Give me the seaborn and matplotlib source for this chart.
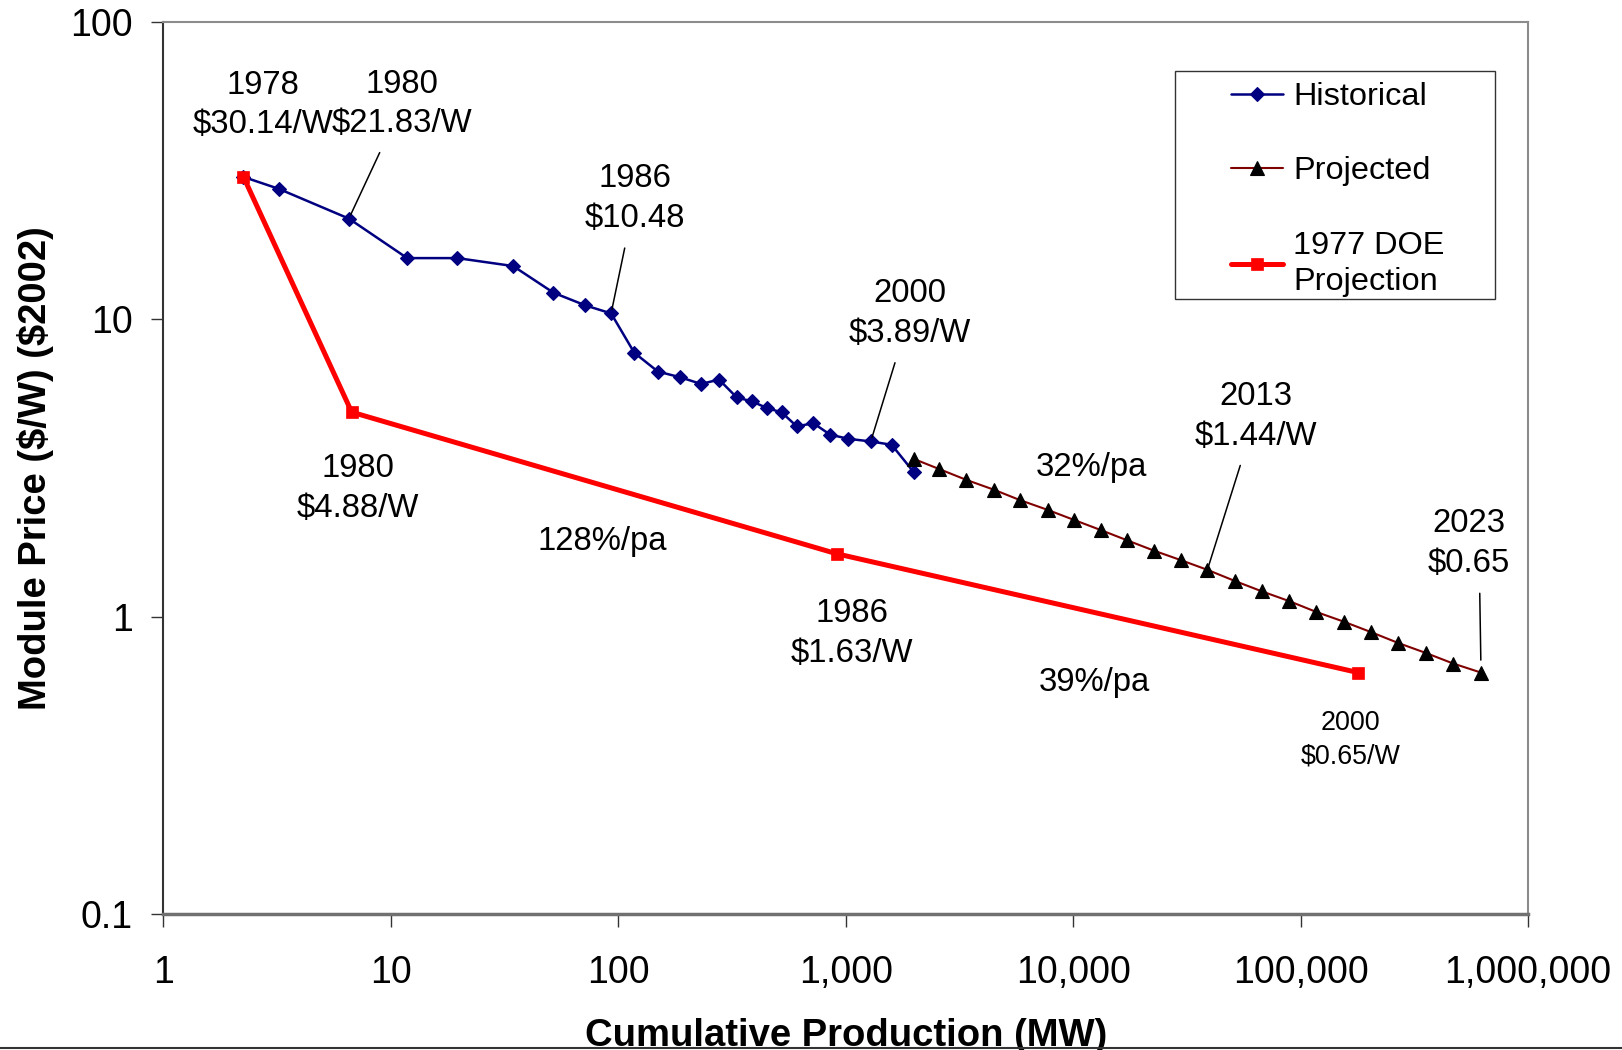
import numpy as np
import pandas as pd
import matplotlib
matplotlib.use("Agg")
import matplotlib.pyplot as plt
import seaborn as sns
from matplotlib.lines import Line2D
from matplotlib.patches import Rectangle
from matplotlib.ticker import NullLocator

# ---------------- data ----------------
hist_mw = [2.25, 3.21, 6.54, 11.8, 19.6, 34.5, 51.9, 71.7, 93.0, 117.6, 149.4, 187.6,
           231.3, 277.3, 331.7, 388.5, 449.5, 523.5, 609.3, 720.9, 853.9, 1027, 1289,
           1593, 1996]
hist_price = [30.14, 27.5, 21.83, 16.08, 16.08, 15.12, 12.30, 11.15, 10.48, 7.73, 6.68,
              6.39, 6.07, 6.28, 5.47, 5.30, 5.04, 4.87, 4.37, 4.48, 4.10, 3.97, 3.89,
              3.79, 3.06]

proj_mw = [1989, 2580, 3388, 4467, 5842, 7730, 10070, 13210, 17270, 22680, 29920, 38930,
           51530, 67400, 89200, 117000, 154900, 204200, 269200, 354900, 469500, 621500]
proj_price = [3.40, 3.14, 2.89, 2.68, 2.47, 2.29, 2.12, 1.96, 1.81, 1.67, 1.55, 1.44,
              1.32, 1.22, 1.13, 1.04, 0.964, 0.889, 0.817, 0.757, 0.697, 0.65]

doe_mw = [2.25, 6.73, 915, 179300]
doe_price = [30.14, 4.88, 1.63, 0.65]

series_labels = ["Historical", "Projected", "1977 DOE\nProjection"]

x_ticks = [1, 10, 100, 1000, 10000, 100000, 1000000]
x_tick_labels = ["1", "10", "100", "1,000", "10,000", "100,000", "1,000,000"]
y_ticks = [0.1, 1, 10, 100]
y_tick_labels = ["0.1", "1", "10", "100"]

# point annotations: (index, text)
hist_notes = [(0, "1978\n$30.14/W"), (2, "1980\n$21.83/W"), (8, "1986\n$10.48"),
              (22, "2000\n$3.89/W")]
proj_notes = [(11, "2013\n$1.44/W"), (21, "2023\n$0.65")]
doe_notes = [(1, "1980\n$4.88/W"), (2, "1986\n$1.63/W"), (3, "2000\n$0.65/W")]
rate_notes = ["128%/pa", "32%/pa", "39%/pa"]

# ---------------- style ----------------
sns.set_style("white")
plt.rcParams["font.family"] = ["Liberation Sans", "DejaVu Sans"]
plt.rcParams["text.parse_math"] = False
plt.rcParams["text.color"] = "black"
plt.rcParams["axes.labelcolor"] = "black"

fig = plt.figure(figsize=(16.22, 10.5), dpi=100)
ax = fig.add_axes([0.10074, 0.12914, 0.84131, 0.84991])
ax.set_xscale("log")
ax.set_yscale("log")

NAVY = "#000080"
DARKRED = "#800000"
RED = "#FF0000"

sns.lineplot(x=hist_mw, y=hist_price, ax=ax, sort=False, estimator=None,
             color=NAVY, lw=1.8, marker="D", markersize=7.3,
             markerfacecolor=NAVY, markeredgecolor=NAVY, markeredgewidth=0.8,
             legend=False)
h_hist = ax.lines[-1]
sns.lineplot(x=proj_mw, y=proj_price, ax=ax, sort=False, estimator=None,
             color=DARKRED, lw=1.5, marker="^", markersize=10,
             markerfacecolor="black", markeredgecolor="black", markeredgewidth=0.8,
             legend=False)
h_proj = ax.lines[-1]
sns.lineplot(x=doe_mw, y=doe_price, ax=ax, sort=False, estimator=None,
             color=RED, lw=3.6, marker="s", markersize=9,
             markerfacecolor=RED, markeredgecolor=RED, markeredgewidth=0.5,
             legend=False)
h_doe = ax.lines[-1]

ax.set_xlim(1, 1e6)
ax.set_ylim(0.1, 100)
ax.set_xticks(x_ticks)
ax.set_xticklabels(x_tick_labels)
ax.set_yticks(y_ticks)
ax.set_yticklabels(y_tick_labels)
ax.xaxis.set_minor_locator(NullLocator())
ax.yaxis.set_minor_locator(NullLocator())
ax.tick_params(axis="both", which="major", direction="out", length=9, width=1,
               color="#333333", labelsize=27, labelcolor="black",
               bottom=True, left=True)
ax.tick_params(axis="x", pad=20)
ax.tick_params(axis="y", pad=13)

for side in ["top", "right"]:
    ax.spines[side].set_color("#8c8c8c")
    ax.spines[side].set_linewidth(1.5)
ax.spines["left"].set_color("#333333")
ax.spines["left"].set_linewidth(1.5)
ax.spines["bottom"].set_color("#707070")
ax.spines["bottom"].set_linewidth(2.5)

ax.set_xlabel("Cumulative Production (MW)", fontsize=27.5, fontweight="bold",
              color="black")
ax.xaxis.label.set_va("baseline")
ax.xaxis.set_label_coords(0.5, -0.148)
ax.set_ylabel("Module Price ($/W) ($2002)", fontsize=27.5, fontweight="bold",
              color="black")
ax.yaxis.set_label_coords(-0.0804, 0.5)

# ---------------- annotations ----------------
ANN_FS = 23.7
LS = 1.35
line_kw = dict(arrowstyle="-", color="black", lw=1.1)

hist_offsets = [(14.2, 51.8), (38.5, 82.5), (17.2, 82.6), (28.3, 92.0)]
hist_leader = [False, True, True, True]
for (i, txt), off, lead in zip(hist_notes, hist_offsets, hist_leader):
    kw = {}
    if lead:
        kw["arrowprops"] = dict(line_kw, shrinkA=8, shrinkB=3)
    ax.annotate(txt, xy=(hist_mw[i], hist_price[i]), xytext=off,
                textcoords="offset points", ha="center", va="center",
                fontsize=ANN_FS, linespacing=LS, color="black", **kw)

proj_offsets = [(34.8, 110.5), (-8.6, 92.8)]
proj_relpos = [(0.5, 0.5), (0.62, 0.5)]
proj_shrinkB = [3, 9]
for (i, txt), off, rp, sb in zip(proj_notes, proj_offsets, proj_relpos, proj_shrinkB):
    ax.annotate(txt, xy=(proj_mw[i], proj_price[i]), xytext=off,
                textcoords="offset points", ha="center", va="center",
                fontsize=ANN_FS, linespacing=LS, color="black",
                arrowprops=dict(line_kw, shrinkA=8, shrinkB=sb, relpos=rp))

doe_offsets = [(4.5, -55.0), (10.7, -57.3), (-5.6, -48.2)]
doe_fs = [ANN_FS, ANN_FS, 19.4]
for (i, txt), off, fs in zip(doe_notes, doe_offsets, doe_fs):
    ax.annotate(txt, xy=(doe_mw[i], doe_price[i]), xytext=off,
                textcoords="offset points", ha="center", va="center",
                fontsize=fs, linespacing=LS, color="black")

rate_pos = [(0.3218, 0.4180), (0.6803, 0.5003), (0.6819, 0.2604)]
for txt, (px, py) in zip(rate_notes, rate_pos):
    ax.text(px, py, txt, transform=ax.transAxes, ha="center", va="center",
            fontsize=ANN_FS, color="black")

# ---------------- legend ----------------
leg = ax.legend([h_hist, h_proj, h_doe], series_labels, frameon=False,
                loc="upper left", bbox_to_anchor=(0.7432, 0.9465),
                bbox_transform=fig.transFigure, fontsize=23.4,
                handlelength=1.6, handletextpad=0.3, labelspacing=1.36,
                borderpad=0.3)
leg.get_texts()[2].set_linespacing(1.27)
for t in leg.get_texts():
    t.set_color("black")
fig.add_artist(Rectangle((0.7244, 0.7152), 0.1971, 0.2168, transform=fig.transFigure,
                         fill=False, edgecolor="#333333", lw=1.0))

# bottom border line of the picture
fig.add_artist(Line2D([0, 1], [0.0015, 0.0015], transform=fig.transFigure,
                      color="#333333", lw=1.5))

fig.savefig("out.png", dpi=100)
